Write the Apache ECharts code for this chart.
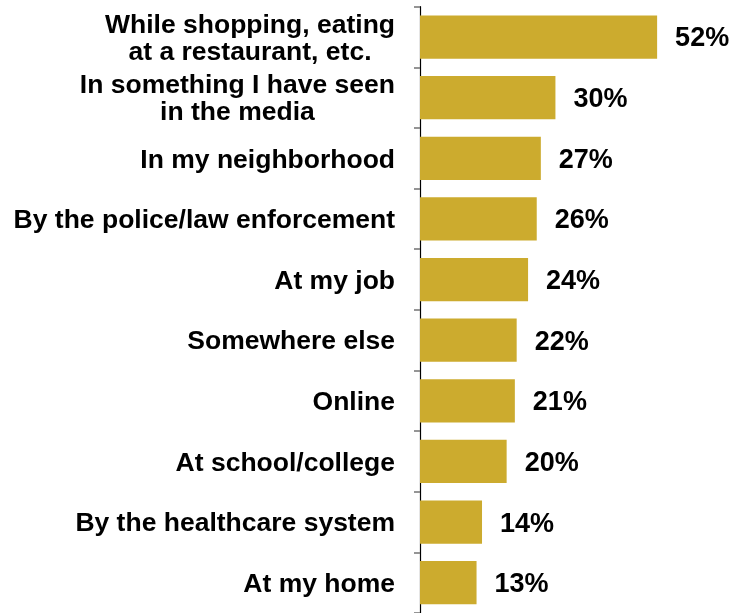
<!DOCTYPE html>
<html>
<head>
<meta charset="utf-8">
<script src="https://cdn.jsdelivr.net/npm/echarts@6/dist/echarts.min.js"></script>
<style>html,body{margin:0;padding:0;background:#fff;}#chart{width:736px;height:613px;}</style>
</head>
<body>
<div id="chart"></div>
<script>
const categories = [
  "While shopping, eating\nat a restaurant, etc.",
  "In something I have seen\nin the media",
  "In my neighborhood",
  "By the police/law enforcement",
  "At my job",
  "Somewhere else",
  "Online",
  "At school/college",
  "By the healthcare system",
  "At my home"
];
const values = [52, 29.7, 26.5, 25.6, 23.7, 21.2, 20.8, 19.0, 13.6, 12.4];
const valueLabels = ["52%", "30%", "27%", "26%", "24%", "22%", "21%", "20%", "14%", "13%"];

const chart = echarts.init(document.getElementById('chart'));
chart.setOption({
  animation: false,
  grid: { left: 420, top: 6.7, width: 273.6, height: 608.5, containLabel: false },
  xAxis: {
    type: 'value', min: 0, max: 60, show: false
  },
  yAxis: {
    type: 'category',
    inverse: true,
    data: categories,
    axisLine: { show: true, lineStyle: { color: '#000', width: 1.2 } },
    axisTick: { show: true, length: 6, lineStyle: { color: '#7a7a7a', width: 1.6 } },
    axisLabel: {
      margin: 25,
      align: 'right',
      padding: [4, 0, 0, 0],
      formatter: function (v) {
        return v.split('\n').map(function (s) { return '{c|' + s + '}'; }).join('\n');
      },
      rich: {
        c: {
          align: 'center',
          fontFamily: '"Liberation Sans", Arial, sans-serif',
          fontWeight: 'bold',
          fontSize: 26.5,
          lineHeight: 27,
          color: '#000'
        }
      }
    }
  },
  series: [{
    type: 'bar',
    data: values,
    barCategoryGap: '28.7%',
    itemStyle: { color: '#CCAB2E' },
    label: {
      show: true,
      position: 'right',
      distance: 18,
      offset: [0, 2],
      formatter: function (p) { return valueLabels[p.dataIndex]; },
      fontFamily: '"Liberation Sans", Arial, sans-serif',
      fontWeight: 'bold',
      fontSize: 27,
      color: '#000'
    }
  }]
});
</script>
</body>
</html>
